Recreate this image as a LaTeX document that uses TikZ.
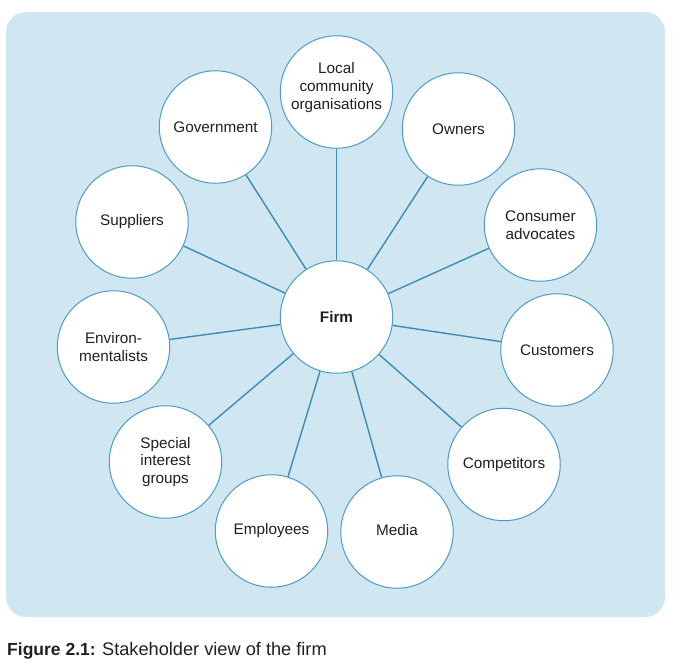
\documentclass[tikz,border=0pt]{standalone}
\usepackage{fontspec}
\setmainfont{Liberation Sans}
\definecolor{bgblue}{HTML}{D0E6F1}
\definecolor{lineblue}{HTML}{3C8DB6}
\definecolor{rimblue}{HTML}{4A9DC6}
\definecolor{txt}{HTML}{231F20}
\begin{document}
\begin{tikzpicture}[x=1pt,y=-1pt,
  stake/.style={circle,draw=rimblue,line width=1pt,fill=white,minimum size=112.5pt,inner sep=0pt,
    align=center,text=txt,font=\fontsize{15.3}{17.7}\selectfont},
  link/.style={draw=lineblue,line width=1.4pt}]
\useasboundingbox (0,0) rectangle (684,664);
\fill[bgblue,rounded corners=20pt] (6,12) rectangle (665,617);
\node[stake,font=\fontsize{15.3}{17.7}\selectfont\bfseries] (firm) at (336.5,317) {Firm};
\node[stake] (local) at (336.5,92) {Local\\community\\organisations\\[-5.7pt]\mbox{}};
\node[stake] (owners) at (458.5,129) {Owners};
\node[stake] (consumer) at (540.5,225) {Consumer\\advocates};
\node[stake] (customers) at (557,350) {Customers};
\node[stake] (competitors) at (504,464.5) {Competitors};
\node[stake] (media) at (397,532) {Media\\[-12.7pt]\mbox{}};
\node[stake] (employees) at (271.5,531) {Employees};
\node[stake] (special) at (165.5,462) {Special\\interest\\groups};
\node[stake] (environ) at (113.5,347) {Environ-\\mentalists};
\node[stake] (suppliers) at (132,222) {Suppliers};
\node[stake] (government) at (215.5,127) {Government};
\foreach \n in {local,owners,consumer,customers,competitors,media,employees,special,environ,suppliers,government}
  \draw[link] (firm) -- (\n);
\node[anchor=base west,inner sep=0pt,text=txt,font=\fontsize{17.5}{20}\selectfont] (caption) at (7,655.3)
  {\textbf{Figure 2.1:} {\fontsize{18.2}{20}\selectfont Stakeholder view of the firm}};
\end{tikzpicture}
\end{document}
